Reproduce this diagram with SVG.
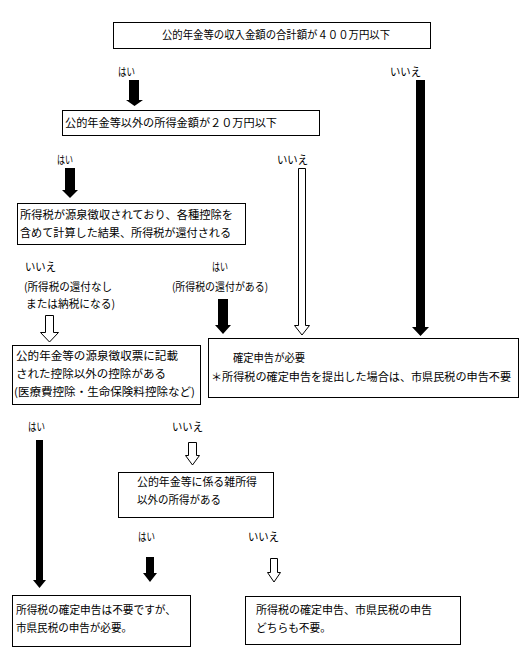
<svg xmlns="http://www.w3.org/2000/svg" width="530" height="670" viewBox="0 0 530 670">
<style>
.box{fill:#fff;stroke:#000;stroke-width:1}
.t{font-family:"Noto Sans CJK JP","Noto Sans",sans-serif;font-size:11px;fill:#000}
.ab{fill:#000;stroke:none}
.aw{fill:#fff;stroke:#000;stroke-width:1}
</style>
<rect width="530" height="670" fill="#fff"/>
<g id="connectors">
<path class="ab" d="M129,80H139V100H143L134.5,106L126,100H129Z"/>
<path class="ab" d="M416,80H425V327H429L420.5,336L412,327H416Z"/>
<path class="ab" d="M65,168H75V190H78L70,198L62,190H65Z"/>
<path class="aw" d="M298.5,168.5H305.5V325.5H309.5L302,335L294.5,325.5H298.5Z"/>
<path class="aw" d="M45.5,315.5H53.5V332.5H58.5L49.5,342L40.5,332.5H45.5Z"/>
<path class="ab" d="M218,299H228V325H231L223,334L215,325H218Z"/>
<path class="ab" d="M36,440H43V580H46L39.5,588L33,580H36Z"/>
<path class="aw" d="M188.5,442.5H196.5V455.5H199.5L192.5,465L185.5,455.5H188.5Z"/>
<path class="ab" d="M146,557H154V573H157L150,582L143,573H146Z"/>
<path class="aw" d="M270.5,558.5H277.5V572.5H280.5L274,582L267.5,572.5H270.5Z"/>
</g>
<g id="labels">
<text class="t" x="118" y="76" textLength="17" lengthAdjust="spacingAndGlyphs">はい</text>
<text class="t" x="390" y="76" textLength="31" lengthAdjust="spacingAndGlyphs">いいえ</text>
<text class="t" x="57" y="164" textLength="16" lengthAdjust="spacingAndGlyphs">はい</text>
<text class="t" x="277" y="164" textLength="31" lengthAdjust="spacingAndGlyphs">いいえ</text>
<text class="t" x="25" y="271" textLength="31" lengthAdjust="spacingAndGlyphs">いいえ</text>
<text class="t" x="24" y="291" textLength="88" lengthAdjust="spacingAndGlyphs">(所得税の還付なし</text>
<text class="t" x="26" y="308" textLength="89" lengthAdjust="spacingAndGlyphs">または納税になる)</text>
<text class="t" x="212" y="271" textLength="16" lengthAdjust="spacingAndGlyphs">はい</text>
<text class="t" x="172" y="291" textLength="96" lengthAdjust="spacingAndGlyphs">(所得税の還付がある)</text>
<text class="t" x="28" y="431" textLength="17" lengthAdjust="spacingAndGlyphs">はい</text>
<text class="t" x="172" y="431" textLength="31" lengthAdjust="spacingAndGlyphs">いいえ</text>
<text class="t" x="138" y="541" textLength="17" lengthAdjust="spacingAndGlyphs">はい</text>
<text class="t" x="248" y="541" textLength="31" lengthAdjust="spacingAndGlyphs">いいえ</text>
</g>
<g id="n1">
<rect class="box" x="113.5" y="22.5" width="317" height="26"/>
<text class="t" x="162" y="39" textLength="228" lengthAdjust="spacingAndGlyphs">公的年金等の収入金額の合計額が４００万円以下</text>
</g>
<g id="n2">
<rect class="box" x="62.5" y="110.5" width="257" height="25"/>
<text class="t" x="65" y="127" textLength="212" lengthAdjust="spacingAndGlyphs">公的年金等以外の所得金額が２０万円以下</text>
</g>
<g id="n3">
<rect class="box" x="17.5" y="203.5" width="228" height="41"/>
<text class="t" x="20" y="219" textLength="213" lengthAdjust="spacingAndGlyphs">所得税が源泉徴収されており、各種控除を</text>
<text class="t" x="20" y="237" textLength="211" lengthAdjust="spacingAndGlyphs">含めて計算した結果、所得税が還付される</text>
</g>
<g id="n4">
<rect class="box" x="12.5" y="345.5" width="188" height="59"/>
<text class="t" x="16" y="360" textLength="162" lengthAdjust="spacingAndGlyphs">公的年金等の源泉徴収票に記載</text>
<text class="t" x="16" y="378" textLength="150" lengthAdjust="spacingAndGlyphs">された控除以外の控除がある</text>
<text class="t" x="14" y="396" textLength="181" lengthAdjust="spacingAndGlyphs">(医療費控除・生命保険料控除など)</text>
</g>
<g id="n5">
<rect class="box" x="208.5" y="338.5" width="310" height="59"/>
<text class="t" x="233" y="362" textLength="72" lengthAdjust="spacingAndGlyphs">確定申告が必要</text>
<text class="t" x="211" y="381" textLength="300" lengthAdjust="spacingAndGlyphs">＊所得税の確定申告を提出した場合は、市県民税の申告不要</text>
</g>
<g id="n6">
<rect class="box" x="118.5" y="472.5" width="155" height="45"/>
<text class="t" x="137" y="486" textLength="120" lengthAdjust="spacingAndGlyphs">公的年金等に係る雑所得</text>
<text class="t" x="137" y="504" textLength="84" lengthAdjust="spacingAndGlyphs">以外の所得がある</text>
</g>
<g id="n7">
<rect class="box" x="12.5" y="595.5" width="178" height="51"/>
<text class="t" x="16" y="614" textLength="160" lengthAdjust="spacingAndGlyphs">所得税の確定申告は不要ですが、</text>
<text class="t" x="16" y="632" textLength="116" lengthAdjust="spacingAndGlyphs">市県民税の申告が必要。</text>
</g>
<g id="n8">
<rect class="box" x="245.5" y="596.5" width="215" height="48"/>
<text class="t" x="256" y="614" textLength="176" lengthAdjust="spacingAndGlyphs">所得税の確定申告、市県民税の申告</text>
<text class="t" x="256" y="632" textLength="75" lengthAdjust="spacingAndGlyphs">どちらも不要。</text>
</g>
</svg>
